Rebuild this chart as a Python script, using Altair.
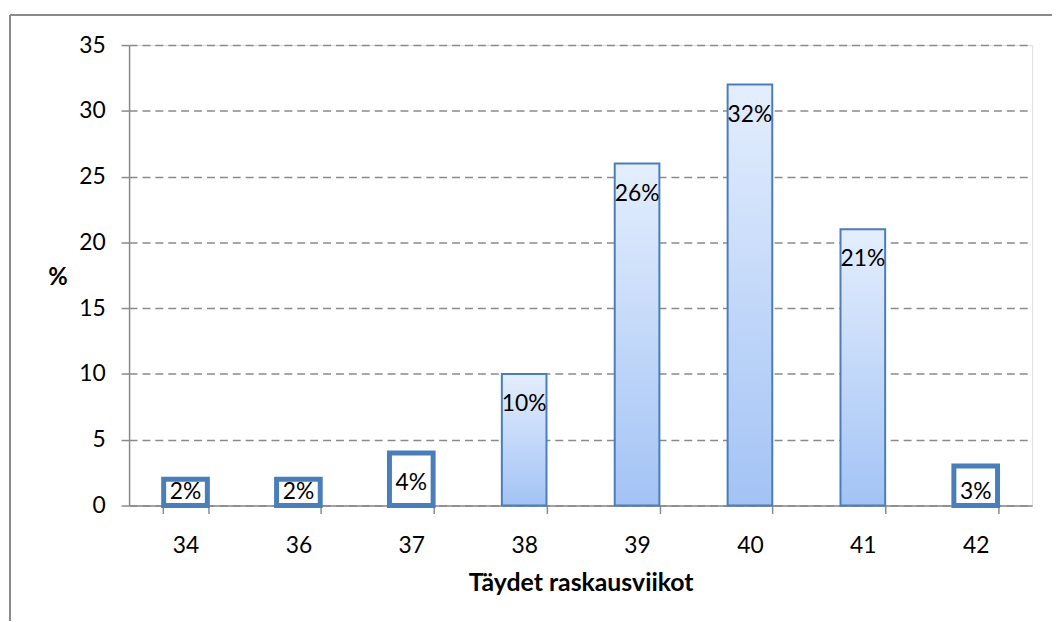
import altair as alt
import pandas as pd

weeks = ["34", "36", "37", "38", "39", "40", "41", "42"]
values = [2, 2, 4, 10, 26, 32, 21, 3]
labels = ["2%", "2%", "4%", "10%", "26%", "32%", "21%", "3%"]

df = pd.DataFrame({"week": weeks, "value": values, "label": labels})

FONT = "Lato"
GRAY = "#8a8a8a"
BLUE = "#4a7ebb"

x_enc = alt.X(
    "week:N",
    sort=weeks,
    title="Täydet raskausviikot",
    scale=alt.Scale(paddingInner=0.6, paddingOuter=0.3),
    axis=alt.Axis(
        labelAngle=0,
        labelFont=FONT,
        labelFontSize=23,
        labelColor="#000000",
        labelPadding=21,
        tickBand="extent",
        tickSize=8,
        tickColor=GRAY,
        tickWidth=1.5,
        domainColor=GRAY,
        domainWidth=1.5,
        titleFont=FONT,
        titleFontSize=25,
        titleFontWeight="bold",
        titleColor="#000000",
        titlePadding=14,
        grid=False,
    ),
)

y_enc = alt.Y(
    "value:Q",
    title="%",
    scale=alt.Scale(domain=[0, 35], nice=False),
    axis=alt.Axis(
        values=[0, 5, 10, 15, 20, 25, 30, 35],
        labelFont=FONT,
        labelFontSize=23,
        labelColor="#000000",
        labelPadding=16,
        tickSize=8,
        tickColor=GRAY,
        tickWidth=1.5,
        domainColor=GRAY,
        domainWidth=1.5,
        grid=True,
        gridColor=GRAY,
        gridDash=[8, 5],
        gridWidth=1.4,
        titleFont=FONT,
        titleFontSize=24,
        titleFontWeight="bold",
        titleColor="#000000",
        titleAngle=0,
        titleAlign="center",
        titleBaseline="middle",
        titleX=-72,
        titleY=234,
    ),
)

gradient = alt.Gradient(
    gradient="linear",
    stops=[
        alt.GradientStop(color="#e4eefd", offset=0),
        alt.GradientStop(color="#a3c3f5", offset=1),
    ],
    x1=0, x2=0, y1=0, y2=1,
)

base = alt.Chart(df)

big_bars = base.transform_filter("datum.value >= 5").mark_bar(
    width=45, fill=gradient, stroke=BLUE, strokeWidth=2
).encode(x=x_enc, y=y_enc)

small_bars = base.transform_filter("datum.value < 5").mark_bar(
    width=44, fill="#ffffff", stroke=BLUE, strokeWidth=5
).encode(x=alt.X("week:N", sort=weeks), y=alt.Y("value:Q"))

text = base.transform_calculate(
    pos="max(datum.value - 2.3, 1.05)"
).mark_text(
    font=FONT, fontSize=23, color="#000000", baseline="middle", align="center"
).encode(
    x=alt.X("week:N", sort=weeks),
    y=alt.Y("pos:Q"),
    text="label:N",
)

frame_top = base.mark_rule(color=GRAY, strokeWidth=1.5).encode(
    x=alt.value(-120), x2=alt.value(960), y=alt.value(-30)
)
frame_left = base.mark_rule(color=GRAY, strokeWidth=1.5).encode(
    x=alt.value(-120), y=alt.value(-30), y2=alt.value(620)
)

chart = alt.layer(big_bars, small_bars, text, frame_top, frame_left).properties(
    width=910,
    height=464,
    autosize=alt.AutoSizeParams(type="none"),
    padding={"left": 122, "top": 35, "right": 20, "bottom": 114},
).configure_view(stroke=None).configure(background="#ffffff")

chart.save("out.html", embed_options={"renderer": "svg", "actions": False})
